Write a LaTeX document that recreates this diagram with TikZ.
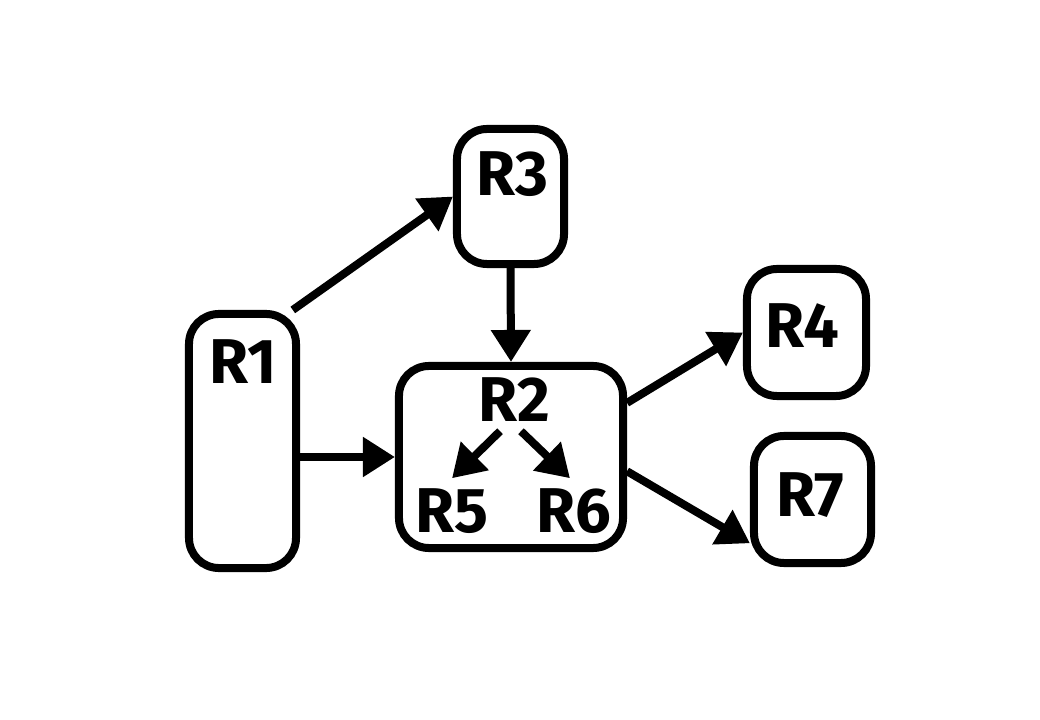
\documentclass[tikz,border=0pt]{standalone}
\usepackage{fontspec}
\setmainfont{Fira Sans}
\usetikzlibrary{arrows.meta,calc}

\begin{document}
\begin{tikzpicture}[x=0.025cm,y=-0.025cm,
    box/.style={draw,line width=0.2cm,rounded corners=0.75cm,inner sep=0pt},
    lbl/.style={font=\bfseries\fontsize{45}{50}\selectfont,inner sep=0pt},
    arr/.style={line width=0.2cm,-{Triangle[length=0.8cm,width=0.95cm]}}]
    \useasboundingbox (0,0) rectangle (1040,720);
    % boxes
    \node[box,minimum width=2.675cm,minimum height=6.35cm] (r1) at (242.5,441) {};
    \node[box,minimum width=2.675cm,minimum height=3.375cm] (r3) at (510.5,196.5) {};
    \node[box,minimum width=5.6cm,minimum height=4.55cm] (r2) at (511,457) {};
    \node[box,minimum width=2.975cm,minimum height=3.175cm] (r4) at (806.5,332.5) {};
    \node[box,minimum width=2.925cm,minimum height=3.175cm] (r7) at (812.5,499.5) {};
    % labels
    \node[lbl] (r1lbl) at (243,362) {R1};
    \node[lbl] (r3lbl) at (512,174) {R3};
    \node[lbl] (r2lbl) at (514,400) {R2};
    \node[lbl] (r5lbl) at (451.5,511) {R5};
    \node[lbl] (r6lbl) at (573.5,511) {R6};
    \node[lbl] (r4lbl) at (802,326) {R4};
    \node[lbl] (r7lbl) at (810,495) {R7};
    % connectors
    \draw[arr] (r1.69) -- (r3.west);
    \draw[arr] (r1.east |- r2.west) -- (r2.west);
    \draw[arr] (r3.south) -- (r2.north);
    \draw[arr] (r2.25) -- (r4.west);
    \draw[arr] (r2.-7) -- (r7.215);
    \draw[arr] ($(r2lbl.south)+(-14,9)$) -- ($(r5lbl.north)+(0.5,-10)$);
    \draw[arr] ($(r2lbl.south)+(7,9)$) -- ($(r6lbl.north)+(-3.5,-10)$);
\end{tikzpicture}
\end{document}
